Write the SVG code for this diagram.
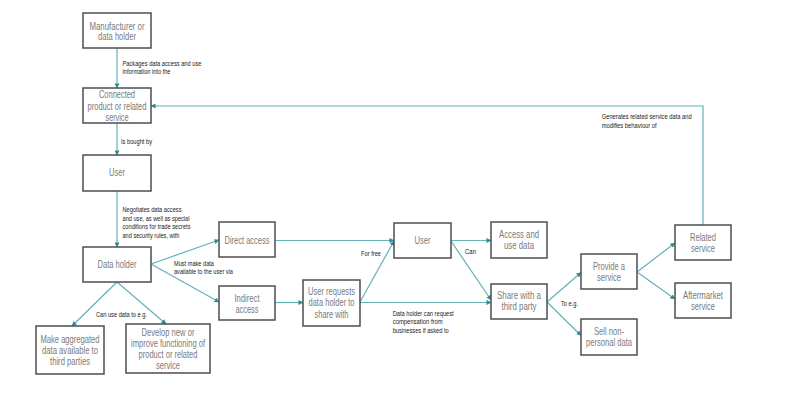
<svg xmlns="http://www.w3.org/2000/svg" width="800" height="399" viewBox="0 0 800 399">
<defs>
<style>
.box{fill:#ffffff;stroke:#4d4d4d;stroke-width:1.5}
.bt{font-family:"Liberation Sans",Arial,sans-serif;font-size:10.5px;fill:#7a7a7a;text-anchor:middle}
.lb{font-family:"Liberation Sans",Arial,sans-serif;font-size:7.5px;fill:#222222}
.c{fill:none;stroke:#62b2b8;stroke-width:1.2}
</style>
<marker id="ah" viewBox="0 0 6 6" refX="5.5" refY="3" markerWidth="5" markerHeight="5" markerUnits="userSpaceOnUse" orient="auto">
<path d="M0,0 L6,3 L0,6 z" fill="#2f8c92"/>
</marker>
</defs>
<rect width="800" height="399" fill="#ffffff"/>

<g id="connectors">
<line class="c" x1="117" y1="48" x2="117" y2="88" marker-end="url(#ah)"/>
<line class="c" x1="117" y1="123" x2="117" y2="155" marker-end="url(#ah)"/>
<line class="c" x1="117" y1="191" x2="117" y2="247" marker-end="url(#ah)"/>
<line class="c" x1="151" y1="264" x2="219" y2="240" marker-end="url(#ah)"/>
<line class="c" x1="151" y1="264" x2="219" y2="302" marker-end="url(#ah)"/>
<line class="c" x1="117" y1="282" x2="72" y2="326" marker-end="url(#ah)"/>
<line class="c" x1="117" y1="282" x2="166" y2="324" marker-end="url(#ah)"/>
<line class="c" x1="275" y1="240.5" x2="394" y2="240.5" marker-end="url(#ah)"/>
<line class="c" x1="275" y1="302.5" x2="303" y2="302.5" marker-end="url(#ah)"/>
<line class="c" x1="360" y1="302" x2="394" y2="241" marker-end="url(#ah)"/>
<line class="c" x1="360" y1="302.5" x2="491" y2="302.5" marker-end="url(#ah)"/>
<line class="c" x1="451" y1="240.5" x2="491" y2="240.5" marker-end="url(#ah)"/>
<line class="c" x1="451" y1="241" x2="491" y2="300" marker-end="url(#ah)"/>
<line class="c" x1="547" y1="302" x2="581" y2="272.5" marker-end="url(#ah)"/>
<line class="c" x1="547" y1="302" x2="581" y2="335.5" marker-end="url(#ah)"/>
<line class="c" x1="637" y1="272" x2="675" y2="243" marker-end="url(#ah)"/>
<line class="c" x1="637" y1="272" x2="675" y2="299" marker-end="url(#ah)"/>
<polyline class="c" points="703,225 703,106 151,106" stroke="#86c4c8" marker-end="url(#ah)"/>
</g>

<g id="labels">
<text class="lb" x="122.5" y="65.5" textLength="79" lengthAdjust="spacingAndGlyphs">Packages data access and use</text>
<text class="lb" x="122.5" y="74" textLength="48" lengthAdjust="spacingAndGlyphs">information into the</text>
<text class="lb" x="121" y="143.5" textLength="31" lengthAdjust="spacingAndGlyphs">Is bought by</text>
<text class="lb" x="122.5" y="212" textLength="59" lengthAdjust="spacingAndGlyphs">Negotiates data access</text>
<text class="lb" x="122.5" y="220.5" textLength="67" lengthAdjust="spacingAndGlyphs">and use, as well as special</text>
<text class="lb" x="122.5" y="229" textLength="68" lengthAdjust="spacingAndGlyphs">conditions for trade secrets</text>
<text class="lb" x="122.5" y="237.5" textLength="57" lengthAdjust="spacingAndGlyphs">and security rules, with</text>
<text class="lb" x="174" y="265.5" textLength="40" lengthAdjust="spacingAndGlyphs">Must make data</text>
<text class="lb" x="174" y="274" textLength="59" lengthAdjust="spacingAndGlyphs">available to the user via</text>
<text class="lb" x="96" y="317" textLength="51" lengthAdjust="spacingAndGlyphs">Can use data to e.g.</text>
<text class="lb" x="361" y="255.5" textLength="20" lengthAdjust="spacingAndGlyphs">For free</text>
<text class="lb" x="465" y="253.5" textLength="11" lengthAdjust="spacingAndGlyphs">Can</text>
<text class="lb" x="392.7" y="316" textLength="61" lengthAdjust="spacingAndGlyphs">Data holder can request</text>
<text class="lb" x="392.7" y="324.3" textLength="50" lengthAdjust="spacingAndGlyphs">compensation from</text>
<text class="lb" x="392.7" y="332.7" textLength="56" lengthAdjust="spacingAndGlyphs">businesses if asked to</text>
<text class="lb" x="561" y="306" textLength="17" lengthAdjust="spacingAndGlyphs">To e.g.</text>
<text class="lb" x="601.7" y="118.5" textLength="90" lengthAdjust="spacingAndGlyphs">Generates related service data and</text>
<text class="lb" x="601.7" y="127.5" textLength="55" lengthAdjust="spacingAndGlyphs">modifies behaviour of</text>
</g>

<g id="manufacturer">
<rect class="box" x="83" y="13" width="68" height="35"/>
<text class="bt" x="117" y="29.5" textLength="55" lengthAdjust="spacingAndGlyphs">Manufacturer or</text>
<text class="bt" x="117" y="40" textLength="38" lengthAdjust="spacingAndGlyphs">data holder</text>
</g>
<g id="connected-product">
<rect class="box" x="83" y="88" width="68" height="35"/>
<text class="bt" x="117" y="97.5" textLength="36" lengthAdjust="spacingAndGlyphs">Connected</text>
<text class="bt" x="117" y="109.5" textLength="59" lengthAdjust="spacingAndGlyphs">product or related</text>
<text class="bt" x="117" y="120.5" textLength="23" lengthAdjust="spacingAndGlyphs">service</text>
</g>
<g id="user1">
<rect class="box" x="83" y="155" width="68" height="36"/>
<text class="bt" x="117" y="176" textLength="16" lengthAdjust="spacingAndGlyphs">User</text>
</g>
<g id="data-holder">
<rect class="box" x="83" y="247" width="68" height="35"/>
<text class="bt" x="117" y="268" textLength="39" lengthAdjust="spacingAndGlyphs">Data holder</text>
</g>
<g id="direct-access">
<rect class="box" x="219" y="222" width="56" height="35"/>
<text class="bt" x="247" y="244" textLength="45" lengthAdjust="spacingAndGlyphs">Direct access</text>
</g>
<g id="indirect-access">
<rect class="box" x="219" y="286" width="56" height="34"/>
<text class="bt" x="247" y="302" textLength="25" lengthAdjust="spacingAndGlyphs">Indirect</text>
<text class="bt" x="247" y="313" textLength="23" lengthAdjust="spacingAndGlyphs">access</text>
</g>
<g id="aggregated">
<rect class="box" x="36" y="326" width="68" height="48"/>
<text class="bt" x="70" y="343" textLength="59" lengthAdjust="spacingAndGlyphs">Make aggregated</text>
<text class="bt" x="70" y="354" textLength="56" lengthAdjust="spacingAndGlyphs">data available to</text>
<text class="bt" x="70" y="365" textLength="40" lengthAdjust="spacingAndGlyphs">third parties</text>
</g>
<g id="develop">
<rect class="box" x="126" y="324" width="84" height="49"/>
<text class="bt" x="168" y="336" textLength="53" lengthAdjust="spacingAndGlyphs">Develop new or</text>
<text class="bt" x="168" y="347" textLength="74" lengthAdjust="spacingAndGlyphs">improve functioning of</text>
<text class="bt" x="168" y="358" textLength="59" lengthAdjust="spacingAndGlyphs">product or related</text>
<text class="bt" x="168" y="368.5" textLength="24" lengthAdjust="spacingAndGlyphs">service</text>
</g>
<g id="user-requests">
<rect class="box" x="303" y="280" width="57" height="46"/>
<text class="bt" x="331.5" y="294.5" textLength="47" lengthAdjust="spacingAndGlyphs">User requests</text>
<text class="bt" x="331.5" y="306" textLength="46" lengthAdjust="spacingAndGlyphs">data holder to</text>
<text class="bt" x="331.5" y="317.5" textLength="34" lengthAdjust="spacingAndGlyphs">share with</text>
</g>
<g id="user2">
<rect class="box" x="394" y="223" width="57" height="35"/>
<text class="bt" x="422.5" y="243.5" textLength="16" lengthAdjust="spacingAndGlyphs">User</text>
</g>
<g id="access-use">
<rect class="box" x="491" y="222" width="56" height="36"/>
<text class="bt" x="519" y="237.5" textLength="40" lengthAdjust="spacingAndGlyphs">Access and</text>
<text class="bt" x="519" y="248.5" textLength="30" lengthAdjust="spacingAndGlyphs">use data</text>
</g>
<g id="share-third-party">
<rect class="box" x="491" y="284" width="56" height="35"/>
<text class="bt" x="519" y="298.5" textLength="44" lengthAdjust="spacingAndGlyphs">Share with a</text>
<text class="bt" x="519" y="309.5" textLength="35" lengthAdjust="spacingAndGlyphs">third party</text>
</g>
<g id="provide-service">
<rect class="box" x="581" y="254" width="56" height="35"/>
<text class="bt" x="609" y="269.5" textLength="32" lengthAdjust="spacingAndGlyphs">Provide a</text>
<text class="bt" x="609" y="280.5" textLength="24" lengthAdjust="spacingAndGlyphs">service</text>
</g>
<g id="sell-data">
<rect class="box" x="581" y="319" width="56" height="36"/>
<text class="bt" x="609" y="335" textLength="30" lengthAdjust="spacingAndGlyphs">Sell non-</text>
<text class="bt" x="609" y="346" textLength="46" lengthAdjust="spacingAndGlyphs">personal data</text>
</g>
<g id="related-service">
<rect class="box" x="675" y="225" width="56" height="35"/>
<text class="bt" x="703" y="241" textLength="26" lengthAdjust="spacingAndGlyphs">Related</text>
<text class="bt" x="703" y="252" textLength="24" lengthAdjust="spacingAndGlyphs">service</text>
</g>
<g id="aftermarket-service">
<rect class="box" x="675" y="283" width="56" height="35"/>
<text class="bt" x="703" y="298.5" textLength="40" lengthAdjust="spacingAndGlyphs">Aftermarket</text>
<text class="bt" x="703" y="309.5" textLength="24" lengthAdjust="spacingAndGlyphs">service</text>
</g>
</svg>
